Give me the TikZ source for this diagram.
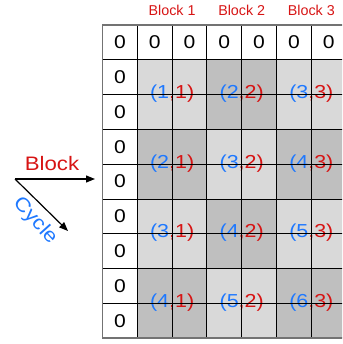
\documentclass[tikz,border=0pt]{standalone}
\usepackage{fontspec}
\setmainfont{Liberation Sans}
\newfontfamily\wide[FakeStretch=1.14]{Liberation Sans}
\usetikzlibrary{arrows.meta}
\definecolor{cblue}{RGB}{30,120,255}
\definecolor{cred}{RGB}{215,20,20}
\definecolor{lgray}{RGB}{217,217,217}
\definecolor{dgray}{RGB}{191,191,191}
\definecolor{bgray}{RGB}{115,115,115}
\tikzset{
  gridline/.style={draw=black,line width=0.9pt},
  border/.style={draw=bgray,line width=1.6pt},
  zero/.style={inner sep=0pt,font=\wide\fontsize{18.5}{20}\selectfont},
  pair/.style={inner sep=0pt,font=\wide\fontsize{18.8}{22}\selectfont},
  blockhead/.style={inner sep=0pt,text=cred,font=\fontsize{14.3}{16}\selectfont},
  sidelabel/.style={inner sep=0pt,font=\wide\fontsize{19.5}{22}\selectfont},
  arr/.style={draw=black,line width=1.2pt,-{Triangle[length=9pt,width=7pt]}}
}
\begin{document}
\begin{tikzpicture}[x=1pt,y=-1pt]
\useasboundingbox (0,0) rectangle (342,344);
\def\xo{102.5}\def\yo{25}\def\cs{34.8}
\begin{scope}
\clip (0,0) rectangle (342,344);
% shaded blocks
\foreach \band in {0,1,2,3}{
  \foreach \blk in {0,1,2}{
    \pgfmathtruncatemacro\s{mod(\band+\blk,2)}
    \ifnum\s=0 \def\col{lgray}\else\def\col{dgray}\fi
    \fill[\col] ({\xo+\cs*(1+2*\blk)},{\yo+\cs*(1+2*\band)}) rectangle ++(2*\cs,2*\cs);
  }
}
% pair labels
\foreach \band in {0,1,2,3}{
  \foreach \blk in {0,1,2}{
    \pgfmathtruncatemacro\cy{\band+\blk+1}
    \pgfmathtruncatemacro\bk{\blk+1}
    \node[pair] (p-\band-\blk) at ({\xo+\cs*(2+2*\blk)},{\yo+\cs*(2+2*\band)-1}) {\textcolor{cblue}{(\cy}\textcolor{cred}{,\bk)}};
  }
}
% grid lines
\foreach \i in {1,...,6}{
  \draw[gridline] ({\xo+\cs*\i},\yo) -- ({\xo+\cs*\i},{\yo+9*\cs});
}
\foreach \j in {1,...,8}{
  \draw[gridline] (\xo,{\yo+\cs*\j}) -- (346,{\yo+\cs*\j});
}
\draw[border] (346,\yo) -- (\xo,\yo) -- (\xo,{\yo+9*\cs}) -- (346,{\yo+9*\cs});
% zeros
\foreach \r in {0,...,8}{
  \node[zero] (zl-\r) at ({\xo+\cs*0.5},{\yo+\cs*(\r+0.5)}) {0};
}
\foreach \c in {1,...,6}{
  \node[zero] (zt-\c) at ({\xo+\cs*(\c+0.5)},{\yo+\cs*0.5}) {0};
}
\end{scope}
% block headers
\foreach \b in {1,2,3}{
  \node[blockhead] (bh-\b) at ({\xo+\cs*(2*\b)},10.5) {Block \b};
}
% side arrows
\coordinate (o) at (15,179);
\coordinate (bend) at (95,179);
\coordinate (cend) at (68,231);
\draw[arr] (o) -- (bend);
\draw[arr] (o) -- (cend);
\node[sidelabel,text=cred] (blabel) at (52,164) {Block};
\node[sidelabel,text=cblue,rotate=-48] (clabel) at (35,221) {Cycle};
\end{tikzpicture}
\end{document}
